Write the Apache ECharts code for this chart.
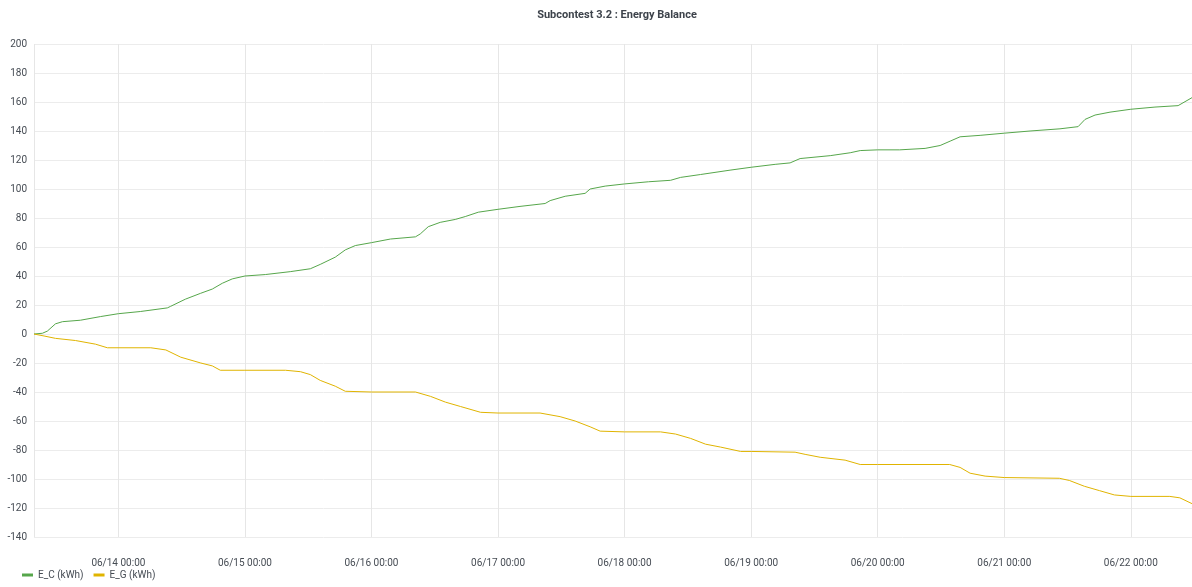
<!DOCTYPE html>
<html>
<head>
<meta charset="utf-8">
<script src="https://cdn.jsdelivr.net/npm/echarts@6/dist/echarts.min.js"></script>
<style>
  html, body { margin: 0; padding: 0; background: #fff; }
  #main { width: 1192px; height: 587px; }
</style>
</head>
<body>
<div id="main"></div>
<script>
// E_C (kWh), cumulative consumption
var ecTimes = [
  '2020-06-13 08:00', '2020-06-13 09:35', '2020-06-13 10:32', '2020-06-13 12:04', '2020-06-13 13:24',
  '2020-06-13 16:48', '2020-06-13 20:35', '2020-06-14 00:00', '2020-06-14 04:10', '2020-06-14 09:17',
  '2020-06-14 09:52', '2020-06-14 12:42', '2020-06-14 15:33', '2020-06-14 17:49', '2020-06-14 19:43',
  '2020-06-14 21:36', '2020-06-15 00:00', '2020-06-15 03:52', '2020-06-15 08:36', '2020-06-15 12:24',
  '2020-06-15 14:17', '2020-06-15 17:08', '2020-06-15 19:02', '2020-06-15 20:56', '2020-06-16 00:00',
  '2020-06-16 03:36', '2020-06-16 08:20', '2020-06-16 09:15', '2020-06-16 10:46', '2020-06-16 13:02',
  '2020-06-16 15:53', '2020-06-16 17:47', '2020-06-16 20:15', '2020-06-17 00:00', '2020-06-17 04:10',
  '2020-06-17 08:56', '2020-06-17 09:53', '2020-06-17 12:44', '2020-06-17 16:31', '2020-06-17 17:28',
  '2020-06-17 20:19', '2020-06-18 00:00', '2020-06-18 04:33', '2020-06-18 08:43', '2020-06-18 10:37',
  '2020-06-18 14:25', '2020-06-18 20:00', '2020-06-19 00:00', '2020-06-19 04:33', '2020-06-19 07:23',
  '2020-06-19 09:17', '2020-06-19 15:00', '2020-06-19 18:47', '2020-06-19 20:41', '2020-06-20 00:00',
  '2020-06-20 04:10', '2020-06-20 08:59', '2020-06-20 11:50', '2020-06-20 13:44', '2020-06-20 15:37',
  '2020-06-20 19:25', '2020-06-21 00:00', '2020-06-21 04:53', '2020-06-21 10:34', '2020-06-21 14:00',
  '2020-06-21 15:19', '2020-06-21 17:13', '2020-06-21 20:03', '2020-06-22 00:00', '2020-06-22 04:35',
  '2020-06-22 08:58', '2020-06-22 11:36'
];
var ecValues = [
  0, 0.5, 2, 7, 8.5,
  9.5, 12, 14, 15.5, 18,
  19, 24, 28, 31, 35,
  38, 40, 41, 43, 45,
  48, 53, 58, 61, 63,
  65.5, 67, 69, 74, 77,
  79, 81, 84, 86, 88,
  90, 92, 95, 97, 100,
  102, 103.5, 105, 106, 108,
  110, 113, 115, 117, 118,
  121, 123, 125, 126.5, 127,
  127, 128, 130, 133, 136,
  137, 138.5, 140, 141.5, 143,
  148, 151, 153, 155, 156.5,
  157.5, 163
];

// E_G (kWh), cumulative generation
var egTimes = [
  '2020-06-13 08:00', '2020-06-13 10:05', '2020-06-13 12:04', '2020-06-13 15:52', '2020-06-13 19:39',
  '2020-06-13 21:55', '2020-06-14 06:09', '2020-06-14 09:00', '2020-06-14 11:50', '2020-06-14 15:38',
  '2020-06-14 17:49', '2020-06-14 19:20', '2020-06-15 00:00', '2020-06-15 07:41', '2020-06-15 10:32',
  '2020-06-15 12:24', '2020-06-15 14:17', '2020-06-15 17:08', '2020-06-15 19:02', '2020-06-16 00:00',
  '2020-06-16 08:20', '2020-06-16 11:11', '2020-06-16 14:02', '2020-06-16 16:53', '2020-06-16 20:41',
  '2020-06-17 00:00', '2020-06-17 07:58', '2020-06-17 11:46', '2020-06-17 14:37', '2020-06-17 17:28',
  '2020-06-17 19:22', '2020-06-18 00:00', '2020-06-18 06:49', '2020-06-18 09:40', '2020-06-18 12:31',
  '2020-06-18 15:22', '2020-06-18 18:13', '2020-06-18 22:00', '2020-06-19 00:00', '2020-06-19 08:20',
  '2020-06-19 10:14', '2020-06-19 13:05', '2020-06-19 17:49', '2020-06-19 20:41', '2020-06-20 00:00',
  '2020-06-20 13:39', '2020-06-20 15:37', '2020-06-20 17:31', '2020-06-20 20:22', '2020-06-21 00:00',
  '2020-06-21 10:26', '2020-06-21 12:20', '2020-06-21 15:11', '2020-06-21 18:02', '2020-06-21 20:53',
  '2020-06-22 00:00', '2020-06-22 07:24', '2020-06-22 09:18', '2020-06-22 11:36'
];
var egValues = [
  0, -1.5, -3, -4.5, -7,
  -9.5, -9.5, -11, -16, -20,
  -22, -25, -25, -25, -26,
  -28, -32, -36, -39.5, -40,
  -40, -43, -47, -50, -54,
  -54.5, -54.5, -57, -60, -64,
  -67, -67.5, -67.5, -69, -72,
  -76, -78, -81, -81, -81.5,
  -83, -85, -87, -90, -90,
  -90, -92, -96, -98, -99,
  -99.5, -101, -105, -108, -111,
  -112, -112, -113, -117
];

var seriesNames = ['E_C (kWh)', 'E_G (kWh)'];
var seriesColors = ['#56A64B', '#E0B400'];

function zip(times, values) {
  var out = [];
  for (var i = 0; i < times.length; i++) {
    out.push([times[i], values[i]]);
  }
  return out;
}

var myChart = echarts.init(document.getElementById('main'));

var option = {
  animation: false,
  textStyle: { fontFamily: 'Roboto' },
  title: {
    text: 'Subcontest 3.2 : Energy Balance',
    left: 612,
    textAlign: 'center',
    top: 5,
    textStyle: { fontSize: 11, fontWeight: 'bold', color: '#3d434b', fontFamily: 'Roboto' }
  },
  legend: {
    left: 17,
    bottom: 2,
    icon: 'rect',
    itemWidth: 11,
    itemHeight: 3,
    itemGap: 10,
    textStyle: { fontSize: 10, color: '#464c54', fontFamily: 'Roboto' },
    data: seriesNames
  },
  grid: { left: 34, right: 0, top: 44, bottom: 50 },
  xAxis: {
    type: 'time',
    min: ecTimes[0],
    max: ecTimes[ecTimes.length - 1],
    splitNumber: 10,
    axisLine: { show: false },
    axisTick: { show: false },
    axisLabel: {
      margin: 21,
      fontSize: 10,
      color: '#464c54',
      showMinLabel: false,
      showMaxLabel: false,
      formatter: function (val) {
        return echarts.time.format(val, '{MM}/{dd} {HH}:{mm}', false);
      }
    },
    splitLine: { show: true, lineStyle: { color: '#e6e6e6' } }
  },
  yAxis: {
    type: 'value',
    min: -140,
    max: 200,
    interval: 20,
    axisLine: { show: false },
    axisTick: { show: false },
    axisLabel: { margin: 7, fontSize: 10, color: '#464c54' },
    splitLine: { lineStyle: { color: '#ececec' } }
  },
  series: [
    {
      name: seriesNames[0],
      type: 'line',
      showSymbol: false,
      color: seriesColors[0],
      lineStyle: { width: 1 },
      data: zip(ecTimes, ecValues)
    },
    {
      name: seriesNames[1],
      type: 'line',
      showSymbol: false,
      color: seriesColors[1],
      lineStyle: { width: 1 },
      data: zip(egTimes, egValues)
    }
  ]
};

myChart.setOption(option);
</script>
</body>
</html>
